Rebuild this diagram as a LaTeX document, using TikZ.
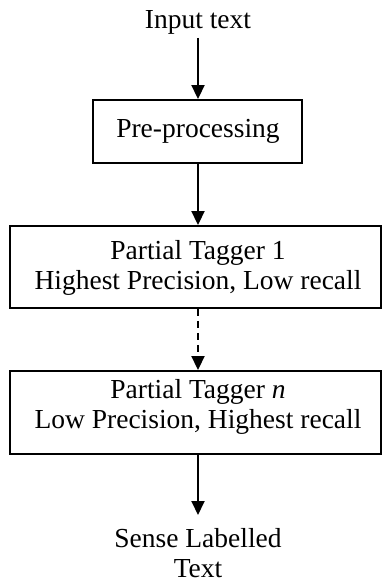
\documentclass[tikz,border=0pt]{standalone}
\usepackage{fontspec}
\setmainfont{Liberation Serif}
\usetikzlibrary{arrows.meta}
\begin{document}
\begin{tikzpicture}[x=1pt,y=-1pt,
  every node/.style={font=\fontsize{27.5}{30}\selectfont, inner sep=0pt},
  stagebox/.style={draw, line width=1.9pt, rectangle},
  txt/.style={anchor=base},
  flow/.style={line width=1.9pt, -{Triangle[length=14pt,width=13pt]}},
  dflow/.style={flow, dash pattern=on 7pt off 5pt}]
  \useasboundingbox (0,0) rectangle (382,583);
  % input label
  \node[txt] (in) at (198,29) {Input text};
  \coordinate (inS) at (198,38);
  % pre-processing stage
  \node[stagebox, minimum width=209pt, minimum height=63pt] (pre) at (197.5,131.5) {};
  \node[txt] (preT) at (198,137) {Pre-processing};
  % first partial tagger
  \node[stagebox, minimum width=371pt, minimum height=82pt] (t1) at (195.5,267) {};
  \node[txt] (t1a) at (198,259) {Partial Tagger 1};
  \node[txt] (t1b) at (198,289) {Highest Precision, Low recall};
  % last partial tagger
  \node[stagebox, minimum width=371pt, minimum height=83pt] (tn) at (195.5,412.5) {};
  \node[txt] (tna) at (198,398) {Partial Tagger \textit{n}};
  \node[txt] (tnb) at (198,428) {Low Precision, Highest recall};
  % output label
  \node[txt] (out1) at (198,547) {Sense Labelled};
  \node[txt] (out2) at (198,577) {Text};
  \coordinate (outN) at (198,515);
  % connectors
  \draw[flow] (inS) -- (pre.north -| inS);
  \draw[flow] (pre.south -| inS) -- (t1.north -| inS);
  \draw[dflow] (t1.south -| inS) -- (tn.north -| inS);
  \draw[flow] (tn.south -| inS) -- (outN);
\end{tikzpicture}
\end{document}
